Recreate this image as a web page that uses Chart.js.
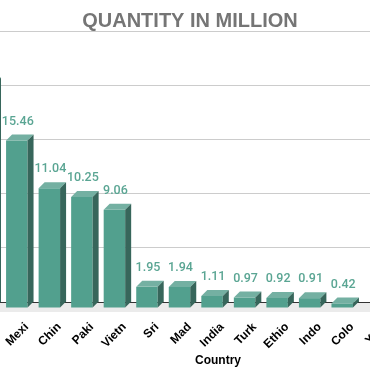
<!DOCTYPE html>
<html>
<head>
<meta charset="utf-8">
<script src="https://cdn.jsdelivr.net/npm/chart.js@4"></script>
<style>
    html, body { margin: 0; padding: 0; background: #fff; overflow: hidden; }
    #wrap { position: relative; width: 370px; height: 371px; overflow: hidden; }
    #qtyChart { position: absolute; left: -94px; top: 0; }
</style>
</head>
<body>
<div id="wrap">
    <canvas id="qtyChart" width="568" height="371"></canvas>
</div>
<script>

/* ================================
   DATA
================================ */

const countries = ["Braz", "Mexi", "Chin", "Paki", "Vietn", "Sri", "Mad", "India", "Turk", "Ethio", "Indo", "Colo", "Yem", "", ""];
const quantities = [20.7, 15.46, 11.04, 10.25, 9.06, 1.95, 1.94, 1.11, 0.97, 0.92, 0.91, 0.42, null, null, null];
const yTicks = [0, 5, 10, 15, 20, 25];


/* ================================
   3D BAR LOOK
================================ */

const depth = { dx: 6, dy: 6 };
const frontColor = "#52a08e";
const topColor = "#74b0a2";
const sideColor = "#37665b";
const labelColor = "#5aa593";

const bar3d = {
    id: "bar3d",

    beforeDatasetsDraw(chart) {
        const ctx = chart.ctx;
        const base = chart.scales.y.getPixelForValue(0);

        // floor band in front of the back wall
        ctx.save();
        ctx.fillStyle = "#ebebeb";
        ctx.fillRect(0, base + 1, chart.width, 9);
        ctx.restore();

        // front faces are drawn shifted towards the viewer
        ctx.save();
        ctx.translate(-depth.dx, depth.dy);
    },

    afterDatasetsDraw(chart) {
        const ctx = chart.ctx;
        ctx.restore();

        const meta = chart.getDatasetMeta(0);

        meta.data.forEach((bar, i) => {
            if (quantities[i] == null) return;

            const left = bar.x - bar.width / 2 - depth.dx;
            const right = bar.x + bar.width / 2 - depth.dx;
            const top = bar.y + depth.dy;
            const bottom = bar.base + depth.dy;

            ctx.fillStyle = topColor;
            ctx.beginPath();
            ctx.moveTo(left, top);
            ctx.lineTo(left + depth.dx, top - depth.dy);
            ctx.lineTo(right + depth.dx, top - depth.dy);
            ctx.lineTo(right, top);
            ctx.closePath();
            ctx.fill();

            ctx.fillStyle = sideColor;
            ctx.beginPath();
            ctx.moveTo(right, top);
            ctx.lineTo(right + depth.dx, top - depth.dy);
            ctx.lineTo(right + depth.dx, bottom - depth.dy);
            ctx.lineTo(right, bottom);
            ctx.closePath();
            ctx.fill();

            // value label
            ctx.fillStyle = labelColor;
            ctx.font = "500 12.5px Roboto";
            ctx.textAlign = "center";
            ctx.textBaseline = "middle";
            ctx.fillText(String(quantities[i]), bar.x - depth.dx + 1, bar.y - 13);
        });
    }
};


/* ================================
   CHART
================================ */

new Chart(document.getElementById("qtyChart").getContext("2d"), {

    type: "bar",

    data: {
        labels: countries,
        datasets: [{
            label: "Quantity",
            data: quantities,
            backgroundColor: frontColor,
            barPercentage: 0.66,
            categoryPercentage: 1,
            clip: false
        }]
    },

    options: {
        responsive: false,
        animation: false,
        layout: { padding: 0 },
        plugins: {
            legend: { display: false },
            tooltip: { enabled: false },
            title: {
                display: true,
                text: "QUANTITY IN MILLION",
                color: "#757575",
                font: { family: "'Liberation Sans', Arial, sans-serif", size: 20, weight: "bold", lineHeight: 1 },
                padding: { top: 11, bottom: 0 }
            }
        },
        scales: {
            x: {
                grid: { display: false, drawTicks: false },
                border: { display: true, color: "#333333", width: 1 },
                ticks: {
                    autoSkip: false,
                    minRotation: 45,
                    maxRotation: 45,
                    padding: 18,
                    labelOffset: 4,
                    color: "#000",
                    font: { family: "'Liberation Sans', Arial, sans-serif", size: 12, weight: "bold" }
                },
                title: {
                    display: true,
                    text: "Country",
                    color: "#000",
                    font: { family: "'Liberation Sans', Arial, sans-serif", size: 12, weight: "bold" },
                    padding: { top: 0, bottom: 3 }
                },
                afterFit: scale => { scale.height = 69; }
            },
            y: {
                min: 0,
                max: 25,
                afterBuildTicks: scale => {
                    scale.ticks = yTicks.map(v => ({ value: v }));
                },
                grid: { color: "#cccccc", drawTicks: false },
                border: { display: false },
                ticks: { display: false },
                afterFit: scale => { scale.width = 68; }
            }
        }
    },

    plugins: [bar3d]
});

</script>
</body>
</html>
